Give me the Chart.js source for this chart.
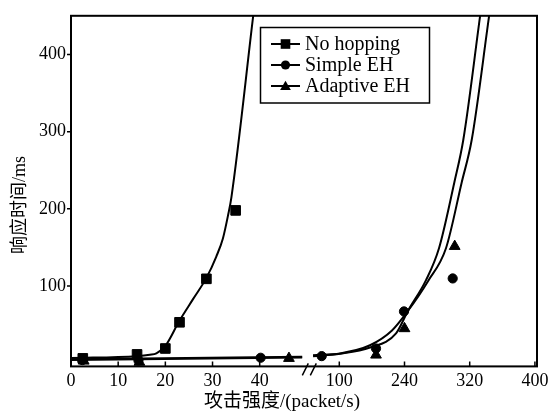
<!DOCTYPE html>
<html><head><meta charset="utf-8">
<script src="https://cdn.jsdelivr.net/npm/chart.js@4"></script>
<style>html,body{margin:0;padding:0;background:#fff}</style>
</head><body>
<canvas id="c" width="557" height="416"></canvas>
<script>
// ---- text ----
const seriesNames = ['No hopping', 'Simple EH', 'Adaptive EH'];
const xTitle = '攻击强度/(packet/s)';
const yTitle = '响应时间/ms';
// ---- ticks ----
const leftTickValues = [0, 10, 20, 30, 40];
const rightTickPositions = [1, 2, 3, 4];
const rightTickLabels = ['100', '240', '320', '400'];
const yTickValues = [100, 200, 300, 400];

// ---- measured markers (left segment: packet/s, right segment: tick-index units) ----
const noHopX = [2.5, 14, 20, 23, 28.7, 34.9];
const noHopY = [6.4, 11.5, 19.2, 53.1, 109.4, 198];
const simpleLeftX = [2.4, 14.3, 40.2];
const simpleLeftY = [4.2, 3.6, 7.2];
const simpleRightX = [0.73, 1.563, 1.992, 2.739];
const simpleRightY = [9.3, 19.2, 67.2, 109.9];
const adaptiveLeftX = [2.7, 14.5, 46.2];
const adaptiveLeftY = [3, 1.5, 6.5];
const adaptiveRightX = [1.563, 2.0, 2.77];
const adaptiveRightY = [10.8, 45, 151.5];

// ---- fitted curves ----
const noHopCurveX = [0, 13.9, 16.7, 18.1, 20.0, 23.0, 25.9, 28.7, 30.8, 32.2, 33.3, 34.0, 38.6, 40];
const noHopCurveY = [6.8, 9.3, 11.0, 12.8, 22.5, 55.3, 83.4, 110.6, 138.3, 161.7, 192, 215, 448.8, 520];
const simpleCurveLeftX = [0, 49];
const simpleCurveLeftY = [4.2, 7.4];
const adaptiveCurveLeftX = [0, 49];
const adaptiveCurveLeftY = [5.4, 8.4];
const simpleCurveRightX = [0.597, 1.011, 1.471, 1.808, 2.054, 2.360, 2.636, 2.877, 3.031, 3.296, 3.42];
const simpleCurveRightY = [10.6, 12.8, 23.4, 42.5, 68.1, 106.4, 149.0, 234.2, 289.5, 448.8, 523];
const adaptiveCurveRightX = [0.597, 1.011, 1.471, 1.870, 2.054, 2.330, 2.529, 2.764, 2.902, 3.158, 3.27];
const adaptiveCurveRightY = [9.3, 12.4, 20.4, 38.7, 68.1, 107.7, 149.0, 234.2, 289.5, 448.8, 518];

const FONT = "'Liberation Serif', 'Noto Sans CJK SC', serif";
Chart.defaults.font.family = FONT;
Chart.defaults.font.size = 18;
Chart.defaults.color = '#000';

const pts = (xs, ys) => xs.map((x, i) => ({x: x, y: ys[i]}));
const curve = (xs, ys, axis) => ({
  type: 'line', data: pts(xs, ys), xAxisID: axis, yAxisID: 'y',
  borderColor: '#000', borderWidth: 2, pointRadius: 0, pointHoverRadius: 0,
  cubicInterpolationMode: 'monotone', fill: false, clip: 0
});
const marks = (xs, ys, axis, style, r) => ({
  type: 'line', data: pts(xs, ys), xAxisID: axis, yAxisID: 'y', showLine: false,
  pointStyle: style, pointRadius: r, pointHoverRadius: r,
  pointBackgroundColor: '#000', pointBorderColor: '#000', pointBorderWidth: 1
});
const markerStyles = [['rect', 6.8], ['circle', 4.6], ['triangle', 6.2]];

function drawMarker(ctx, style, r, x, y) {
  ctx.beginPath();
  if (style === 'rect') {
    const s = r * Math.SQRT1_2;
    ctx.rect(x - s, y - s, 2 * s, 2 * s);
  } else if (style === 'circle') {
    ctx.arc(x, y, r, 0, Math.PI * 2);
  } else {
    for (let k = 0; k < 3; k++) {
      const a = k * 2 * Math.PI / 3;
      const px = x + Math.sin(a) * r, py = y - Math.cos(a) * r;
      k ? ctx.lineTo(px, py) : ctx.moveTo(px, py);
    }
    ctx.closePath();
  }
  ctx.fill();
}

const decor = {
  id: 'decor',
  afterDatasetsDraw(chart) {
    const ctx = chart.ctx, a = chart.chartArea;
    const xs = chart.scales.x, x2 = chart.scales.x2, ys = chart.scales.y;
    ctx.save();
    ctx.strokeStyle = '#000'; ctx.fillStyle = '#000';
    // frame
    ctx.lineWidth = 2;
    ctx.strokeRect(a.left, a.top, a.right - a.left, a.bottom - a.top);
    // x ticks (inside)
    ctx.lineWidth = 1.5;
    ctx.beginPath();
    leftTickValues.forEach(v => { const p = xs.getPixelForValue(v); ctx.moveTo(p, a.bottom); ctx.lineTo(p, a.bottom - 5); });
    rightTickPositions.forEach(v => { const p = x2.getPixelForValue(v); ctx.moveTo(p, a.bottom); ctx.lineTo(p, a.bottom - 5); });
    // y ticks (outside)
    yTickValues.forEach(v => { const p = ys.getPixelForValue(v); ctx.moveTo(a.left, p); ctx.lineTo(a.left - 4, p); });
    ctx.stroke();
    // axis break
    const b = xs.right;
    ctx.beginPath();
    ctx.moveTo(b - 6, a.bottom + 9); ctx.lineTo(b, a.bottom - 3);
    ctx.moveTo(b + 2, a.bottom + 9); ctx.lineTo(b + 8, a.bottom - 3);
    ctx.stroke();
    // axis titles
    ctx.font = '19px ' + FONT;
    ctx.textAlign = 'center'; ctx.textBaseline = 'middle';
    ctx.fillText(xTitle, 282, 402);
    ctx.save();
    ctx.translate(20, 205); ctx.rotate(-Math.PI / 2);
    ctx.font = '18px ' + FONT;
    ctx.fillText(yTitle, 0, 0);
    ctx.restore();
    // legend
    const L = 260.5, T = 27.5, W = 169, H = 75.5;
    ctx.fillStyle = '#fff';
    ctx.fillRect(L, T, W, H);
    ctx.fillStyle = '#000';
    ctx.lineWidth = 1.5;
    ctx.strokeRect(L, T, W, H);
    ctx.font = '20px ' + FONT;
    ctx.textAlign = 'left';
    seriesNames.forEach((name, i) => {
      const y = 44 + i * 21;
      ctx.lineWidth = 2;
      ctx.beginPath(); ctx.moveTo(271, y); ctx.lineTo(300, y); ctx.stroke();
      drawMarker(ctx, markerStyles[i][0], markerStyles[i][1], 285.5, i === 2 ? y + 1 : y);
      ctx.fillText(name, 305, y + 1);
    });
    ctx.restore();
  }
};

new Chart(document.getElementById('c'), {
  data: {
    datasets: [
      curve(noHopCurveX, noHopCurveY, 'x'),
      curve(simpleCurveLeftX, simpleCurveLeftY, 'x'),
      curve(adaptiveCurveLeftX, adaptiveCurveLeftY, 'x'),
      curve(simpleCurveRightX, simpleCurveRightY, 'x2'),
      curve(adaptiveCurveRightX, adaptiveCurveRightY, 'x2'),
      marks(noHopX, noHopY, 'x', markerStyles[0][0], markerStyles[0][1]),
      marks(simpleLeftX, simpleLeftY, 'x', markerStyles[1][0], markerStyles[1][1]),
      marks(simpleRightX, simpleRightY, 'x2', markerStyles[1][0], markerStyles[1][1]),
      marks(adaptiveLeftX, adaptiveLeftY, 'x', markerStyles[2][0], markerStyles[2][1]),
      marks(adaptiveRightX, adaptiveRightY, 'x2', markerStyles[2][0], markerStyles[2][1])
    ]
  },
  options: {
    responsive: false, animation: false, devicePixelRatio: 1,
    layout: {padding: {left: 0, right: 20, top: 11, bottom: 0}},
    plugins: {legend: {display: false}, tooltip: {enabled: false}, title: {display: false}},
    events: [],
    scales: {
      y: {
        type: 'linear', position: 'left', min: -4, max: 450,
        grid: {display: false, drawTicks: false}, border: {display: false},
        ticks: {padding: 5, color: '#000', font: {size: 18}},
        afterBuildTicks: s => { s.ticks = yTickValues.map(v => ({value: v})); },
        afterFit: s => { s.width = 71; }
      },
      x: {
        type: 'linear', position: 'bottom', stack: 'bx', stackWeight: 237.3,
        min: 0, max: 50.3,
        grid: {display: false, drawTicks: false}, border: {display: false},
        ticks: {padding: 4, autoSkip: false, maxRotation: 0, color: '#000', font: {size: 18}},
        afterBuildTicks: s => { s.ticks = leftTickValues.map(v => ({value: v})); },
        afterFit: s => { s.height = 49.6; }
      },
      x2: {
        type: 'linear', position: 'bottom', stack: 'bx', stackWeight: 228.7,
        min: 0.5245, max: 4.032,
        grid: {display: false, drawTicks: false}, border: {display: false},
        ticks: {padding: 4, autoSkip: false, maxRotation: 0, color: '#000', font: {size: 18},
          callback: (v, i) => rightTickLabels[i]},
        afterBuildTicks: s => { s.ticks = rightTickPositions.map(v => ({value: v})); },
        afterFit: s => { s.height = 49.6; }
      }
    }
  },
  plugins: [decor]
});
</script>
</body></html>
